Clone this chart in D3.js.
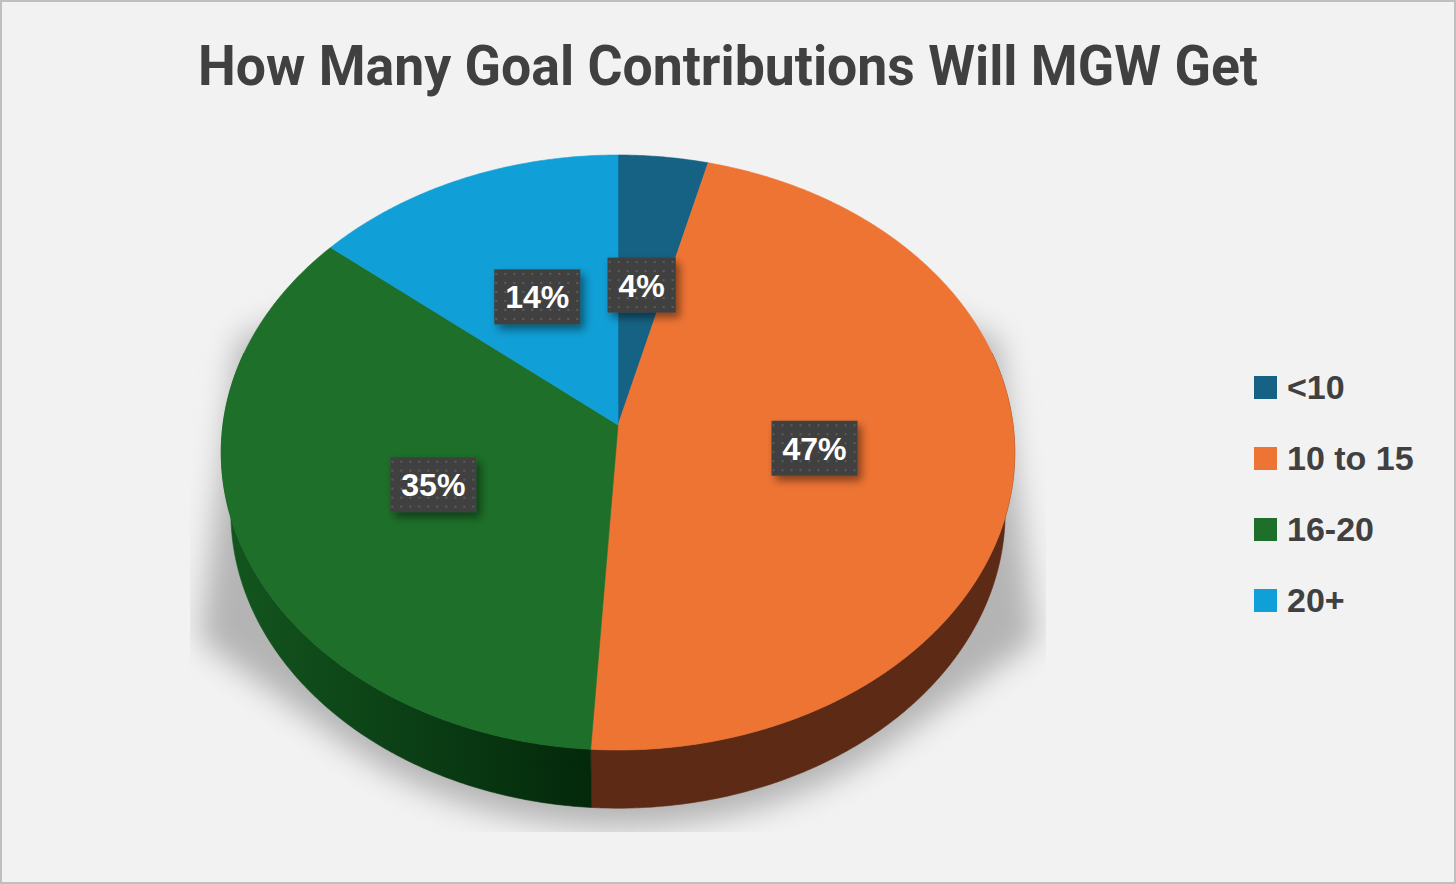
<!DOCTYPE html>
<html>
<head>
<meta charset="utf-8">
<script src="https://cdn.jsdelivr.net/npm/d3@7"></script>
<style>
  html, body { margin: 0; padding: 0; background: #f2f2f2; }
  svg { display: block; }
</style>
</head>
<body>
<svg id="chart"></svg>
<script>
// data
var title = 'How Many Goal Contributions Will MGW Get';
var categories = ['<10', '10 to 15', '16-20', '20+'];
var values = [4, 47, 35, 14];
var colors = ['#156284', '#ee7434', '#1d6f29', '#109fd6'];
var sideColors = ['#0b3447', '#5c2a15', '#0c4a17', '#085677'];

var width = 1456, height = 884;

// 3d view of the pie (perspective, units where camera distance = 1)
var view = {
	cx: 618,
	cy: 425,
	R: 0.139,
	f: 2842,
	tilt: 48.3 * Math.PI / 180,
	depth: 0.0329
};

var svg = d3.select('#chart')
	.attr('width', width)
	.attr('height', height);

var defs = svg.append('defs');

var pattern = defs.append('pattern')
	.attr('id', 'dots')
	.attr('width', 9)
	.attr('height', 9)
	.attr('patternUnits', 'userSpaceOnUse');
pattern.append('rect').attr('width', 9).attr('height', 9).attr('fill', '#404040');
pattern.append('rect').attr('x', 3).attr('y', 3).attr('width', 2).attr('height', 2).attr('fill', '#5c5c5c');

var shadowBlur = defs.append('filter')
	.attr('id', 'shadowBlur')
	.attr('x', '-20%').attr('y', '-20%').attr('width', '140%').attr('height', '140%');
shadowBlur.append('feGaussianBlur').attr('stdDeviation', 15);

var boxShadow = defs.append('filter')
	.attr('id', 'boxShadow')
	.attr('x', '-30%').attr('y', '-30%').attr('width', '170%').attr('height', '170%');
boxShadow.append('feDropShadow')
	.attr('dx', 4).attr('dy', 5)
	.attr('stdDeviation', 4)
	.attr('flood-color', '#000')
	.attr('flood-opacity', 0.45);

defs.append('clipPath').attr('id', 'plotClip')
	.append('rect')
	.attr('x', 190).attr('y', 0)
	.attr('width', 856).attr('height', 832);

var greenSide = defs.append('linearGradient')
	.attr('id', 'side2')
	.attr('gradientUnits', 'userSpaceOnUse')
	.attr('x1', 225).attr('x2', 600).attr('y1', 0).attr('y2', 0);
greenSide.append('stop').attr('offset', 0).attr('stop-color', '#13561f');
greenSide.append('stop').attr('offset', 1).attr('stop-color', '#03270a');

// background and frame
svg.append('rect')
	.attr('x', 1).attr('y', 1)
	.attr('width', width - 2).attr('height', height - 2)
	.attr('fill', '#f2f2f2')
	.attr('stroke', '#bfbfbf')
	.attr('stroke-width', 2);

svg.append('text')
	.attr('x', 728)
	.attr('y', 85)
	.attr('text-anchor', 'middle')
	.attr('font-family', 'Roboto, "Noto Sans", sans-serif')
	.attr('font-weight', 'bold')
	.attr('font-size', '55px')
	.attr('fill', '#404040')
	.attr('textLength', 1060)
	.attr('lengthAdjust', 'spacingAndGlyphs')
	.text(title);

function project(a, r, y3) {
	var X = r * view.R * Math.sin(a);
	var Z = r * view.R * Math.cos(a);
	var yc = Z * Math.sin(view.tilt) + y3 * Math.cos(view.tilt);
	var d = 1 + Z * Math.cos(view.tilt) - y3 * Math.sin(view.tilt);
	return [view.cx + view.f * X / d, view.cy - view.f * yc / d];
}

function rim(a0, a1, r, y3) {
	var n = Math.max(2, Math.ceil((a1 - a0) / (Math.PI / 360)));
	return d3.range(n + 1).map(function(i) {
		return project(a0 + (a1 - a0) * i / n, r, y3);
	});
}

var pie = d3.pie().sort(null).value(function(d) { return d; });
var slices = pie(values);
var total = d3.sum(values);
var fmt = d3.format('.0%');
var line = d3.line().curve(d3.curveLinearClosed);

var pieG = svg.append('g');

// soft shadow below the disc
var shadowPts = rim(0, 2 * Math.PI, 1.02, -view.depth).map(function(p) {
	return [p[0], p[1] + 12];
});
shadowPts.push([238, 340], [998, 340], [200, 640], [1036, 640]);
pieG.append('g')
	.attr('clip-path', 'url(#plotClip)')
	.append('path')
	.attr('d', line(d3.polygonHull(shadowPts)))
	.attr('fill', '#b4b4b4')
	.attr('filter', 'url(#shadowBlur)');

// side walls, only the near half is visible
var front0 = Math.PI * 0.42, front1 = Math.PI * 1.58;
slices.forEach(function(s, i) {
	var a0 = Math.max(s.startAngle, front0);
	var a1 = Math.min(s.endAngle, front1);
	if (a1 <= a0) return;
	var pts = rim(a0, a1, 1, 0).concat(rim(a0, a1, 1, -view.depth).reverse());
	pieG.append('path')
		.attr('d', line(pts))
		.attr('fill', i === 2 ? 'url(#side2)' : sideColors[i])
		.attr('stroke', i === 2 ? 'url(#side2)' : sideColors[i])
		.attr('stroke-width', 0.6);
});

// top faces
slices.forEach(function(s, i) {
	var pts = [project(0, 0, 0)].concat(rim(s.startAngle, s.endAngle, 1, 0));
	pieG.append('path')
		.attr('d', line(pts))
		.attr('fill', colors[i])
		.attr('stroke', colors[i])
		.attr('stroke-width', 0.6);
});

// data labels
slices.forEach(function(s, i) {
	var mid = (s.startAngle + s.endAngle) / 2;
	var p = project(mid, 0.5, 0);
	var g = svg.append('g').attr('transform', 'translate(' + p[0] + ',' + p[1] + ')');
	var box = g.append('rect').attr('fill', 'url(#dots)').attr('filter', 'url(#boxShadow)');
	var t = g.append('text')
		.attr('text-anchor', 'middle')
		.attr('dy', '0.36em')
		.attr('font-family', '"Liberation Sans", Arial, sans-serif')
		.attr('font-weight', 'bold')
		.attr('font-size', '32px')
		.attr('fill', '#ffffff')
		.text(fmt(s.value / total));
	var w = t.node().getComputedTextLength() + 22;
	box.attr('x', -w / 2).attr('y', -27.5).attr('width', w).attr('height', 55);
});

// legend
var legend = svg.append('g').attr('transform', 'translate(1254,399)');
var items = legend.selectAll('g')
	.data(categories)
	.enter().append('g')
	.attr('transform', function(d, i) { return 'translate(0,' + (i * 71) + ')'; });
items.append('rect')
	.attr('x', 0).attr('y', -23)
	.attr('width', 23).attr('height', 23)
	.attr('fill', function(d, i) { return colors[i]; });
items.append('text')
	.attr('x', 33)
	.attr('y', 0)
	.attr('font-family', '"Liberation Sans", Arial, sans-serif')
	.attr('font-weight', 'bold')
	.attr('font-size', '34px')
	.attr('fill', '#404040')
	.text(function(d) { return d; });
</script>
</body>
</html>
